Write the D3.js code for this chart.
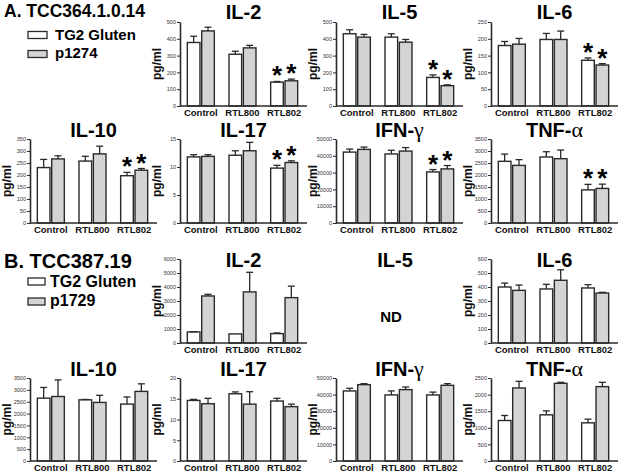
<!DOCTYPE html>
<html><head><meta charset="utf-8">
<script src="https://cdn.jsdelivr.net/npm/d3@7"></script>
<style>body{margin:0;background:#fff}svg{display:block;font-family:"Liberation Sans",Arial,Helvetica,sans-serif}</style>
</head><body><svg id="c" width="624" height="476"></svg>
<script>
// ---------- data ----------
const groups = ["Control", "RTL800", "RTL802"];
const seriesA = ["TG2 Gluten", "p1274"];
const seriesB = ["TG2 Gluten", "p1729"];
const cloneA = "A. TCC364.1.0.14";
const cloneB = "B. TCC387.19";

// [group][series]  series 0 = TG2 Gluten (white), 1 = peptide (gray)
const A_IL2_mean = [[378, 447], [308, 346], [142, 150]];
const A_IL2_err = [[37, 22], [18, 15], [4, 10]];
const A_IL2_ticks = [0, 100, 200, 300, 400, 500];

const A_IL5_mean = [[430, 410], [410, 380], [170, 121]];
const A_IL5_err = [[24, 16], [20, 16], [15, 5]];
const A_IL5_ticks = [0, 100, 200, 300, 400, 500];

const A_IL6_mean = [[180, 184], [198, 198], [136, 122]];
const A_IL6_err = [[12, 17], [18, 25], [7, 4]];
const A_IL6_ticks = [0, 50, 100, 150, 200, 250];

const A_IL10_mean = [[231, 267], [258, 288], [197, 220]];
const A_IL10_err = [[34, 13], [20, 32], [14, 7]];
const A_IL10_ticks = [0, 50, 100, 150, 200, 250, 300, 350];

const A_IL17_mean = [[11.8, 11.9], [12.1, 12.9], [9.8, 10.8]];
const A_IL17_err = [[0.4, 0.3], [0.8, 1.5], [0.5, 0.3]];
const A_IL17_ticks = [0, 5, 10, 15];

const A_IFN_mean = [[42200, 43800], [41100, 42800], [30400, 32200]];
const A_IFN_err = [[1800, 1400], [2200, 2100], [1400, 2000]];
const A_IFN_ticks = [0, 10000, 20000, 30000, 40000, 50000];

const A_TNF_mean = [[2570, 2400], [2750, 2680], [1380, 1440]];
const A_TNF_err = [[300, 240], [220, 360], [230, 180]];
const A_TNF_ticks = [0, 500, 1000, 1500, 2000, 2500, 3000, 3500];

const A_sig = [[false, false], [false, false], [true, true]];
const B_sig = [[false, false], [false, false], [false, false]];

const B_IL2_mean = [[790, 3360], [650, 3650], [670, 3240]];
const B_IL2_err = [[20, 120], [0, 1400], [50, 820]];
const B_IL2_ticks = [0, 1000, 2000, 3000, 4000, 5000, 6000];

const B_IL6_mean = [[400, 376], [386, 448], [393, 357]];
const B_IL6_err = [[28, 38], [33, 75], [24, 5]];
const B_IL6_ticks = [0, 100, 200, 300, 400, 500, 600];

const B_IL10_mean = [[2650, 2720], [2580, 2470], [2400, 2935]];
const B_IL10_err = [[450, 700], [15, 300], [300, 320]];
const B_IL10_ticks = [0, 500, 1000, 1500, 2000, 2500, 3000, 3500];

const B_IL17_mean = [[14.6, 13.8], [16.2, 13.7], [14.45, 13.1]];
const B_IL17_err = [[0.25, 1.3], [0.45, 3.0], [0.65, 0.6]];
const B_IL17_ticks = [0, 5, 10, 15, 20];

const B_IFN_mean = [[42200, 46000], [39800, 43000], [39800, 45600]];
const B_IFN_err = [[1600, 600], [2400, 1600], [1700, 1000]];
const B_IFN_ticks = [0, 10000, 20000, 30000, 40000, 50000];

const B_TNF_mean = [[1220, 2200], [1390, 2340], [1150, 2240]];
const B_TNF_err = [[150, 200], [120, 30], [110, 130]];
const B_TNF_ticks = [0, 500, 1000, 1500, 2000, 2500];

// ---------- layout ----------
const colX = [30, 180, 336, 491];
const rows = [
  {top: 22, bottom: 106, title: 19},
  {top: 139, bottom: 223, title: 137},
  {top: 259, bottom: 343, title: 267},
  {top: 378, bottom: 461, title: 376}
];
const PW = 127;
const fills = ["#ffffff", "#d4d4d4"];
const ink = "#2a2a2a";

const panels = [
  {title: ["IL-2"], col: 1, row: 0, mean: A_IL2_mean, err: A_IL2_err, ticks: A_IL2_ticks, sig: A_sig},
  {title: ["IL-5"], col: 2, row: 0, mean: A_IL5_mean, err: A_IL5_err, ticks: A_IL5_ticks, sig: A_sig},
  {title: ["IL-6"], col: 3, row: 0, mean: A_IL6_mean, err: A_IL6_err, ticks: A_IL6_ticks, sig: A_sig},
  {title: ["IL-10"], col: 0, row: 1, mean: A_IL10_mean, err: A_IL10_err, ticks: A_IL10_ticks, sig: A_sig},
  {title: ["IL-17"], col: 1, row: 1, mean: A_IL17_mean, err: A_IL17_err, ticks: A_IL17_ticks, sig: A_sig},
  {title: ["IFN-", "γ"], col: 2, row: 1, mean: A_IFN_mean, err: A_IFN_err, ticks: A_IFN_ticks, sig: A_sig},
  {title: ["TNF-", "α"], col: 3, row: 1, mean: A_TNF_mean, err: A_TNF_err, ticks: A_TNF_ticks, sig: A_sig},
  {title: ["IL-2"], col: 1, row: 2, mean: B_IL2_mean, err: B_IL2_err, ticks: B_IL2_ticks, sig: B_sig},
  {title: ["IL-6"], col: 3, row: 2, mean: B_IL6_mean, err: B_IL6_err, ticks: B_IL6_ticks, sig: B_sig},
  {title: ["IL-10"], col: 0, row: 3, mean: B_IL10_mean, err: B_IL10_err, ticks: B_IL10_ticks, sig: B_sig},
  {title: ["IL-17"], col: 1, row: 3, mean: B_IL17_mean, err: B_IL17_err, ticks: B_IL17_ticks, sig: B_sig},
  {title: ["IFN-", "γ"], col: 2, row: 3, mean: B_IFN_mean, err: B_IFN_err, ticks: B_IFN_ticks, sig: B_sig},
  {title: ["TNF-", "α"], col: 3, row: 3, mean: B_TNF_mean, err: B_TNF_err, ticks: B_TNF_ticks, sig: B_sig}
];

const svg = d3.select("#c");

function drawTitle(g, parts, cx, by) {
  const t = g.append("text").attr("x", cx).attr("y", by).attr("text-anchor", "middle")
    .attr("font-size", 20).attr("font-weight", "bold").attr("fill", "#000");
  t.append("tspan").text(parts[0]);
  if (parts[1]) t.append("tspan").attr("font-weight", "normal")
    .attr("font-family", "'Liberation Serif','DejaVu Serif',serif").attr("font-size", 22).text(parts[1]);
}

panels.forEach(p => {
  const ax = colX[p.col], r = rows[p.row];
  const g = svg.append("g");
  const y = d3.scaleLinear().domain([0, d3.max(p.ticks)]).range([r.bottom, r.top]);
  const x0 = d3.scaleBand().domain(groups).range([ax, ax + PW - 2]);
  const x1 = d3.scaleBand().domain([0, 1]).range([0, 27]).paddingInner(0.12);

  const recs = [];
  groups.forEach((gn, gi) => [0, 1].forEach(si => recs.push({
    gi, si, v: p.mean[gi][si], e: p.err[gi][si], s: p.sig[gi][si],
    x: x0(gn) + x0.bandwidth() / 2 - 13.5 + x1(si)
  })));

  // bars
  g.selectAll("rect.bar").data(recs).join("rect").attr("class", "bar")
    .attr("x", d => d.x).attr("y", d => y(d.v))
    .attr("width", x1.bandwidth()).attr("height", d => y(0) - y(d.v))
    .attr("fill", d => fills[d.si]).attr("stroke", ink).attr("stroke-width", 1.4);
  // error bars
  const eb = g.selectAll("g.eb").data(recs.filter(d => d.e > 0)).join("g").attr("class", "eb")
    .attr("stroke", ink).attr("stroke-width", 1.3);
  eb.append("line").attr("x1", d => d.x + x1.bandwidth() / 2).attr("x2", d => d.x + x1.bandwidth() / 2)
    .attr("y1", d => y(d.v)).attr("y2", d => y(d.v + d.e));
  eb.append("line").attr("x1", d => d.x + x1.bandwidth() / 2 - 3.5).attr("x2", d => d.x + x1.bandwidth() / 2 + 3.5)
    .attr("y1", d => y(d.v + d.e)).attr("y2", d => y(d.v + d.e));
  // significance stars
  g.selectAll("text.star").data(recs.filter(d => d.s)).join("text").attr("class", "star")
    .attr("x", d => d.x + x1.bandwidth() / 2).attr("y", d => y(d.v + d.e) + 3)
    .attr("text-anchor", "middle").attr("font-size", 26).attr("font-weight", "bold").text("*");

  // y axis
  const ya = g.append("g").attr("transform", `translate(${ax},0)`)
    .call(d3.axisLeft(y).tickValues(p.ticks).tickSize(3).tickSizeOuter(0).tickPadding(1).tickFormat(d3.format("d")));
  ya.select(".domain").attr("stroke", ink).attr("stroke-width", 1.6);
  ya.selectAll(".tick line").attr("stroke", ink).attr("stroke-width", 1);
  ya.selectAll(".tick text").attr("font-size", 5.5).attr("fill", "#333").attr("font-family", "'Liberation Sans',Arial,sans-serif");
  // x axis line
  g.append("line").attr("x1", ax).attr("x2", ax + PW).attr("y1", y(0)).attr("y2", y(0))
    .attr("stroke", ink).attr("stroke-width", 1.6);
  // x labels
  g.selectAll("text.xl").data(groups).join("text").attr("class", "xl")
    .attr("x", d => x0(d) + x0.bandwidth() / 2).attr("y", y(0) + 10)
    .attr("text-anchor", "middle").attr("font-size", 9.5).attr("font-weight", "bold").attr("fill", "#111").text(d => d);
  // y label
  g.append("text").attr("transform", `translate(${ax - 19},${(r.top + r.bottom) / 2}) rotate(-90)`)
    .attr("text-anchor", "middle").attr("font-size", 12).attr("font-weight", "bold").attr("fill", "#111").text("pg/ml");
  drawTitle(g, p.title, ax + PW / 2, r.title);
});

// ND panel (B IL-5)
drawTitle(svg.append("g"), ["IL-5"], 395, rows[2].title);
svg.append("text").attr("x", 391).attr("y", 322).attr("text-anchor", "middle")
  .attr("font-size", 15).attr("font-weight", "bold").text("ND");

// clone titles and legends
function legend(title, tsize, ty, series, bx, bw, by, tx, tys, fsize) {
  svg.append("text").attr("x", 4).attr("y", ty).attr("font-size", tsize).attr("font-weight", "bold").text(title);
  series.forEach((s, i) => {
    svg.append("rect").attr("x", bx).attr("y", by[i]).attr("width", bw).attr("height", 7)
      .attr("fill", fills[i]).attr("stroke", ink).attr("stroke-width", 1.3);
    svg.append("text").attr("x", tx).attr("y", tys[i]).attr("font-size", fsize).attr("font-weight", "bold").text(s);
  });
}
legend(cloneA, 17.5, 17, seriesA, 28, 19, [31.5, 50.5], 55, [40, 58], 15);
legend(cloneB, 20, 268, seriesB, 28, 17, [278, 298], 50, [287, 306], 16);
</script></body></html>
